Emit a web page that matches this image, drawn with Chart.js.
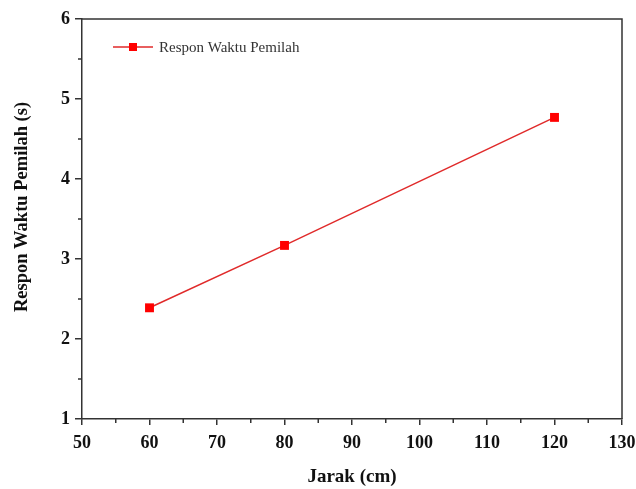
<!DOCTYPE html>
<html>
<head>
<meta charset="utf-8">
<script src="https://cdn.jsdelivr.net/npm/chart.js@4/dist/chart.umd.min.js"></script>
<style>
  html, body { margin: 0; padding: 0; background: #fff; }
  #wrap { width: 636px; height: 489px; }
</style>
</head>
<body>
<div id="wrap"><canvas id="responChart" width="636" height="489"></canvas></div>
<script>
const jarak = [60, 80, 120];
const respon = [2.39, 3.17, 4.77];
const seriesLabel = "Respon Waktu Pemilah";
const yTitle = "Respon Waktu Pemilah (s)";
const xTicks = [50, 60, 70, 80, 90, 100, 110, 120, 130];
const yTicks = [1, 2, 3, 4, 5, 6];

const serif = "'Liberation Serif', 'Times New Roman', serif";
const axisColor = "#333";

// minor ticks, top/right frame, y title and the inset legend
const framePlugin = {
  id: "frame",
  afterDraw(chart) {
    const ctx = chart.ctx;
    const a = chart.chartArea;
    const xs = chart.scales.x;
    const ys = chart.scales.y;
    ctx.save();
    ctx.strokeStyle = axisColor;
    ctx.lineWidth = 1.5;
    ctx.beginPath();
    ctx.moveTo(a.left, a.top);
    ctx.lineTo(a.right, a.top);
    ctx.lineTo(a.right, a.bottom);
    ctx.stroke();

    for (let v = 55; v < 130; v += 10) {
      const px = xs.getPixelForValue(v);
      ctx.beginPath();
      ctx.moveTo(px, a.bottom);
      ctx.lineTo(px, a.bottom + 4);
      ctx.stroke();
    }
    for (let v = 1.5; v < 6; v += 1) {
      const py = ys.getPixelForValue(v);
      ctx.beginPath();
      ctx.moveTo(a.left, py);
      ctx.lineTo(a.left - 4, py);
      ctx.stroke();
    }

    // y axis title (sits a bit above centre in the original)
    ctx.save();
    ctx.translate(22, a.top + 188);
    ctx.rotate(-Math.PI / 2);
    ctx.fillStyle = "#111";
    ctx.font = "bold 18.5px " + serif;
    ctx.textAlign = "center";
    ctx.textBaseline = "middle";
    ctx.fillText(yTitle, 0, 0);
    ctx.restore();

    // legend
    const ds = chart.data.datasets[0];
    const lx = a.left + 31;
    const ly = a.top + 28;
    ctx.strokeStyle = ds.borderColor;
    ctx.lineWidth = 1.5;
    ctx.beginPath();
    ctx.moveTo(lx, ly);
    ctx.lineTo(lx + 40, ly);
    ctx.stroke();
    ctx.fillStyle = ds.pointBackgroundColor;
    ctx.fillRect(lx + 16, ly - 4, 8, 8);
    ctx.fillStyle = "#333";
    ctx.font = "15px " + serif;
    ctx.textBaseline = "middle";
    ctx.fillText(ds.label, lx + 46, ly + 1);
    ctx.restore();
  }
};

new Chart(document.getElementById("responChart"), {
  type: "line",
  data: {
    datasets: [
      {
        label: seriesLabel,
        data: jarak.map((x, i) => ({ x: x, y: respon[i] })),
        borderColor: "#e02a2a",
        borderWidth: 1.5,
        pointStyle: "rect",
        pointRadius: 6.3,
        pointBackgroundColor: "#ff0000",
        pointBorderColor: "#ff0000",
        pointBorderWidth: 0,
        tension: 0
      }
    ]
  },
  options: {
    responsive: false,
    animation: false,
    layout: { padding: { top: 19, right: 0, left: 0, bottom: 0 } },
    plugins: { legend: { display: false }, tooltip: { enabled: false } },
    scales: {
      x: {
        type: "linear",
        min: 50,
        max: 130,
        afterBuildTicks: (s) => { s.ticks = xTicks.map((v) => ({ value: v })); },
        afterFit: (s) => { s.height = 70; s.paddingRight = 14; s.paddingLeft = 0; },
        border: { color: axisColor, width: 1.5 },
        grid: { drawOnChartArea: false, drawTicks: true, tickLength: 6, color: axisColor, lineWidth: 1.5 },
        ticks: { color: "#111", padding: 8, font: { family: serif, size: 18, weight: "bold" } },
        title: {
          display: true,
          text: "Jarak (cm)",
          color: "#111",
          padding: { top: 10, bottom: 1 },
          font: { family: serif, size: 19, weight: "bold" }
        }
      },
      y: {
        type: "linear",
        min: 1,
        max: 6,
        afterBuildTicks: (s) => { s.ticks = yTicks.map((v) => ({ value: v })); },
        afterFit: (s) => { s.width = 82; s.paddingTop = 0; s.paddingBottom = 0; },
        border: { color: axisColor, width: 1.5 },
        grid: { drawOnChartArea: false, drawTicks: true, tickLength: 7, color: axisColor, lineWidth: 1.5 },
        ticks: { color: "#111", padding: 5, font: { family: serif, size: 18, weight: "bold" } },
        title: { display: false }
      }
    }
  },
  plugins: [framePlugin]
});
</script>
</body>
</html>
